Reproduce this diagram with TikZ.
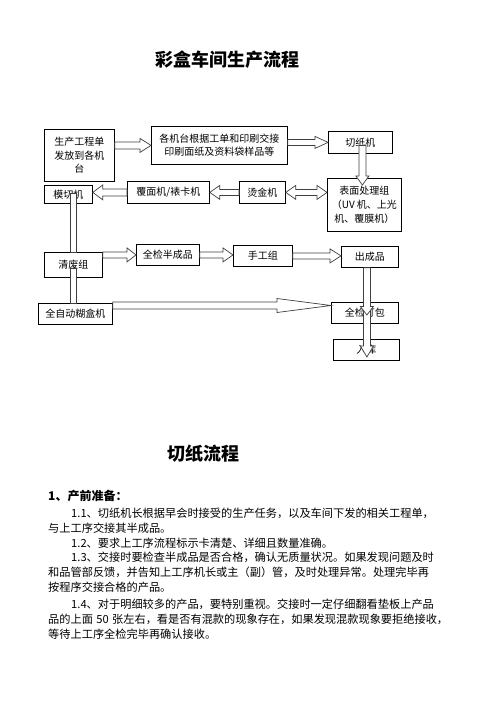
\documentclass[tikz,border=0pt]{standalone}
\usepackage{fontspec}
\setmainfont{Noto Sans CJK SC}
\usetikzlibrary{calc}
\XeTeXlinebreaklocale "zh"
\XeTeXlinebreakskip=0pt plus 2pt minus 0.3pt
\tikzset{
  box/.style={draw=black, line width=0.8pt, fill=white, inner sep=1pt,
    font=\fontsize{10}{13.5}\selectfont, align=center, anchor=north west},
  blk/.style={draw=black!75, line width=0.7pt, fill=white, line join=miter},
  body/.style={anchor=base west, inner sep=0pt, font=\fontsize{11.2}{15}\selectfont},
  ttl/.style={anchor=base, inner sep=0pt, font=\fontsize{18}{18}\selectfont\bfseries},
}
% right-pointing block arrow: start, tip, shaft half, head half, head length
\newcommand\arR[5]{\draw[blk] let \p1=(#1), \p2=(#2) in
  (\x1,\y1+#3pt) -- (\x2-#5pt,\y1+#3pt) -- (\x2-#5pt,\y1+#4pt) -- (\x2,\y1)
  -- (\x2-#5pt,\y1-#4pt) -- (\x2-#5pt,\y1-#3pt) -- (\x1,\y1-#3pt) -- cycle;}
% left-pointing block arrow
\newcommand\arL[5]{\draw[blk] let \p1=(#1), \p2=(#2) in
  (\x1,\y1+#3pt) -- (\x2+#5pt,\y1+#3pt) -- (\x2+#5pt,\y1+#4pt) -- (\x2,\y1)
  -- (\x2+#5pt,\y1-#4pt) -- (\x2+#5pt,\y1-#3pt) -- (\x1,\y1-#3pt) -- cycle;}
% down-pointing block arrow
\newcommand\arD[5]{\draw[blk] let \p1=(#1), \p2=(#2) in
  (\x1-#3pt,\y1) -- (\x1-#3pt,\y2+#5pt) -- (\x1-#4pt,\y2+#5pt) -- (\x1,\y2)
  -- (\x1+#4pt,\y2+#5pt) -- (\x1+#3pt,\y2+#5pt) -- (\x1+#3pt,\y1) -- cycle;}
% double-headed horizontal block arrow (left point, right point)
\newcommand\arLR[5]{\draw[blk] let \p1=(#1), \p2=(#2) in
  (\x1,\y1) -- (\x1+#5pt,\y1+#4pt) -- (\x1+#5pt,\y1+#3pt) -- (\x2-#5pt,\y1+#3pt)
  -- (\x2-#5pt,\y1+#4pt) -- (\x2,\y1) -- (\x2-#5pt,\y1-#4pt) -- (\x2-#5pt,\y1-#3pt)
  -- (\x1+#5pt,\y1-#3pt) -- (\x1+#5pt,\y1-#4pt) -- cycle;}
% vertical shaft only (head hidden under the next box)
\newcommand\shaftD[3]{\draw[blk] let \p1=(#1), \p2=(#2) in
  (\x1-#3pt,\y1) rectangle (\x1+#3pt,\y2);}
\begin{document}
\begin{tikzpicture}[x=1pt,y=-1pt]
\useasboundingbox (0,0) rectangle (496,702);

% title
\node[ttl] (T1) at (227.5,66) {彩盒车间生产流程};

% boxes
\node[box, minimum width=70, minimum height=52] (A) at (44,129) {生产工程单\\发放到各机\\台};
\node[box, minimum width=136, minimum height=38] (B) at (151,126) {各机台根据工单和印刷交接\\印刷面纸及资料袋样品等};
\node[box, minimum width=64, minimum height=22] (C) at (328,131) {切纸机};
\node[box, minimum width=74, minimum height=53, font=\fontsize{10}{14}\selectfont] (D) at (327,178) {表面处理组\\（UV 机、上光\\机、覆膜机）};
\node[box, minimum width=46, minimum height=22] (E) at (239,181) {烫金机};
\node[box, minimum width=82, minimum height=22] (F) at (127,181) {覆面机/裱卡机};
\node[box, minimum width=48, minimum height=18] (G) at (44,185) {模切机};
\node[box, minimum width=58, minimum height=25] (H) at (44,252) {清废组};
\node[box, minimum width=63, minimum height=21] (I) at (136,244) {全检半成品};
\node[box, minimum width=59, minimum height=21] (J) at (233,245) {手工组};
\node[box, minimum width=57, minimum height=21] (K) at (341,246) {出成品};
\node[box, minimum width=74, minimum height=21] (L) at (38,303) {全自动糊盒机};
\node[box, minimum width=67, minimum height=21] (M) at (331,302) {全检打包};
\node[box, minimum width=66, minimum height=21] (N) at (333,339) {入库};

% arrows of the upper rows
\arR{A.east |- B.west}{B.west}{3.5}{7}{11}
\arR{B.east |- C.west}{C.west}{3}{6}{13}
\arD{$(C.center)+(2,3)$}{$(C.center |- D.north)+(2,7)$}{3.5}{6.5}{9}
\arLR{E.east}{D.west |- E.east}{3}{7}{10}
\arL{E.west}{F.east}{3}{7}{10}
\arL{F.west}{G.east |- F.west}{3.5}{7.5}{10}

% vertical shafts on the left (heads hidden under the boxes)
\shaftD{$(H.north |- G.center)+(0,-1)$}{H.north}{3}
\shaftD{$(H.center)+(0,3.5)$}{H.center |- L.north}{3}

% lower arrows
\arR{H.east |- I.west}{I.west}{3}{7}{9}
\arR{I.east}{J.west |- I.east}{3}{7}{10}
\arR{J.east}{K.west |- J.east}{3}{7}{11}
\arR{$(L.north east)+(0,2.5)$}{$(M.north west)+(0,3.5)$}{3.5}{7}{54}
\arD{$(K.south |- M.north)+(-3,8)$}{$(K.south |- N.north)+(-3,18)$}{3.5}{6.5}{11}
\arD{$(K.south)+(-3,0)$}{$(K.south |- M.north)+(-3,13)$}{3.5}{6.5}{8.5}

% text section
\node[ttl] (T2) at (203.5,460) {切纸流程};
\node[anchor=base west, inner sep=0pt, font=\fontsize{12}{12}\selectfont\bfseries] (S1) at (48,500) {1、产前准备：};
\node[body] (L1) at (71,517) {\makebox[377pt][s]{1.1、切纸机长根据早会时接受的生产任务，以及车间下发的相关工程单，}};
\node[body] (L2) at (48,532) {与上工序交接其半成品。};
\node[body] (L3) at (71,547) {1.2、要求上工序流程标示卡清楚、详细且数量准确。};
\node[body] (L4) at (71,561) {\makebox[377pt][s]{1.3、交接时要检查半成品是否合格，确认无质量状况。如果发现问题及时}};
\node[body] (L5) at (48,576) {\makebox[400pt][s]{和品管部反馈，并告知上工序机长或主（副）管，及时处理异常。处理完毕再}};
\node[body] (L6) at (48,591) {按程序交接合格的产品。};
\node[body] (L7) at (71,608) {\makebox[377pt][s]{1.4、对于明细较多的产品，要特别重视。交接时一定仔细翻看垫板上产品}};
\node[body] (L8) at (48,623) {\makebox[400pt][s]{品的上面 50 张左右，看是否有混款的现象存在，如果发现混款现象要拒绝接收，}};
\node[body] (L9) at (48,638) {等待上工序全检完毕再确认接收。};
\end{tikzpicture}
\end{document}
